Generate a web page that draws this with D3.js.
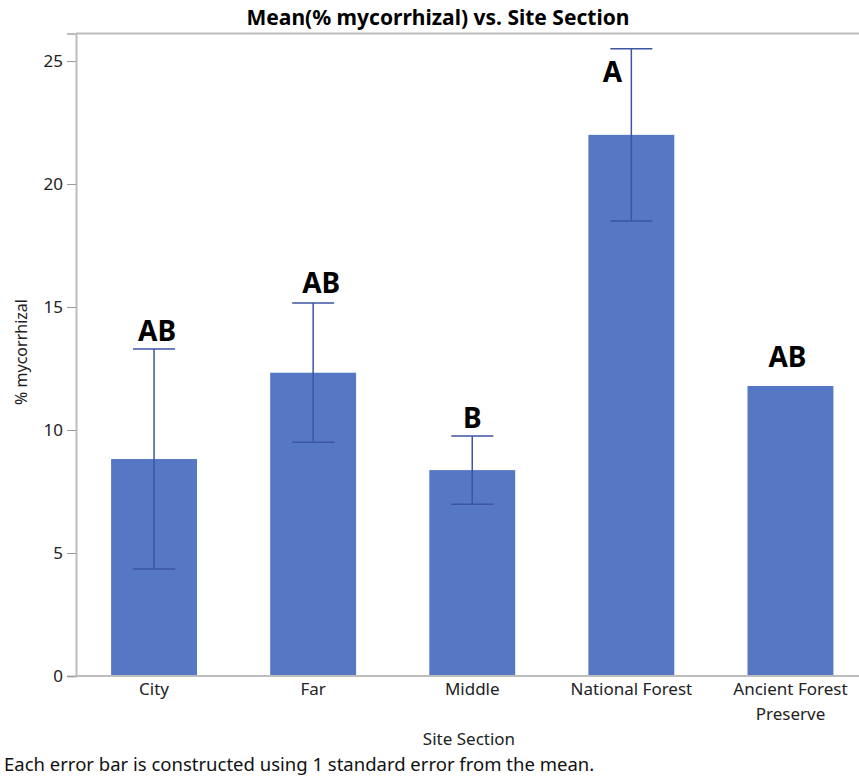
<!DOCTYPE html>
<html>
<head>
<meta charset="utf-8">
<script src="https://cdn.jsdelivr.net/npm/d3@7"></script>
<style>
  html, body { margin: 0; padding: 0; background: #fff; }
  svg { display: block; }
  text { font-family: "Noto Sans", "Open Sans", sans-serif; }
</style>
</head>
<body>
<svg id="chart" width="859" height="779"></svg>
<script>
// Mean % mycorrhizal colonisation per site section, with 1 SE error bars
const categories = ["City", "Far", "Middle", "National Forest", "Ancient Forest Preserve"];
const means = [8.82, 12.33, 8.37, 22.0, 11.79];
const stdErrors = [4.47, 2.83, 1.39, 3.5, null];
const groupLetters = ["AB", "AB", "B", "A", "AB"];
const yTicks = [0, 5, 10, 15, 20, 25];

const svg = d3.select("#chart");
const W = 859, H = 779;
const plot = { left: 76, top: 33.5, bottom: 676, right: 870 };

const x = d3.scaleBand()
  .domain(categories)
  .range([plot.left - 1.5, plot.right])
  .paddingInner(0.46)
  .paddingOuter(0.23);

const y = d3.scaleLinear()
  .domain([0, 26.12])
  .range([plot.bottom, plot.top]);

const barColor = "#5677c4";
const errColor = "#3d55a3";
const axisColor = "#bdbdbd";
const labelFont = "'Noto Sans', sans-serif";

// Frame: top border
svg.append("line")
  .attr("x1", plot.left).attr("x2", W)
  .attr("y1", plot.top).attr("y2", plot.top)
  .attr("stroke", axisColor).attr("stroke-width", 2);

// Y axis
const yAxis = d3.axisLeft(y)
  .tickValues(yTicks)
  .tickSize(9)
  .tickPadding(4)
  .tickFormat(d3.format("d"));
const gy = svg.append("g")
  .attr("transform", `translate(${plot.left},0)`)
  .call(yAxis);
gy.attr("font-size", null).attr("font-family", null);
gy.select(".domain").attr("stroke", axisColor).attr("stroke-width", 2);
gy.selectAll(".tick line").attr("stroke", "#999").attr("stroke-width", 1);
gy.selectAll(".tick text")
  .attr("fill", "#222")
  .style("font-size", "17px")
  .style("font-family", labelFont);

// Bars
svg.append("g").selectAll("rect")
  .data(categories)
  .join("rect")
  .attr("x", d => x(d))
  .attr("width", x.bandwidth())
  .attr("y", (d, i) => y(means[i]))
  .attr("height", (d, i) => y(0) - y(means[i]))
  .attr("fill", barColor);

// X axis
const xAxis = d3.axisBottom(x).tickSize(0).tickPadding(6);
const gx = svg.append("g")
  .attr("transform", `translate(0,${plot.bottom})`)
  .call(xAxis);
gx.attr("font-size", null).attr("font-family", null);
gx.select(".domain").remove();
svg.append("line")
  .attr("x1", plot.left - 1).attr("x2", W)
  .attr("y1", plot.bottom).attr("y2", plot.bottom)
  .attr("stroke", axisColor).attr("stroke-width", 2);

// Category labels, wrapping the long name onto two lines
gx.selectAll(".tick text").each(function(d) {
  const t = d3.select(this);
  t.text(null)
    .attr("fill", "#222")
    .attr("dy", null)
    .attr("y", 0)
    .style("font-size", "17px")
    .style("font-family", labelFont);
  const lines = d === "Ancient Forest Preserve" ? ["Ancient Forest", "Preserve"] : [d];
  lines.forEach((ln, k) => {
    t.append("tspan")
      .attr("x", 0)
      .attr("y", 19 + k * 25)
      .text(ln);
  });
});

// Error bars (1 SE)
const capHalf = 21;
const errData = categories
  .map((c, i) => ({ c, m: means[i], se: stdErrors[i] }))
  .filter(d => d.se != null);
const eg = svg.append("g")
  .attr("stroke", errColor)
  .attr("stroke-width", 1.5)
  .attr("fill", "none");
errData.forEach(d => {
  const cx = x(d.c) + x.bandwidth() / 2;
  const hi = y(d.m + d.se), lo = y(d.m - d.se);
  eg.append("line").attr("x1", cx).attr("x2", cx).attr("y1", hi).attr("y2", lo);
  eg.append("line").attr("x1", cx - capHalf).attr("x2", cx + capHalf).attr("y1", hi).attr("y2", hi);
  eg.append("line").attr("x1", cx - capHalf).attr("x2", cx + capHalf).attr("y1", lo).attr("y2", lo);
});

// Significance group letters above each bar
const letterShift = [
  { dx: 3, dy: -8 },
  { dx: 8, dy: -10 },
  { dx: 0, dy: -8 },
  { dx: -19, dy: 33 },
  { dx: -3, dy: -19 }
];
svg.append("g").selectAll("text")
  .data(categories)
  .join("text")
  .attr("x", (d, i) => x(d) + x.bandwidth() / 2 + letterShift[i].dx)
  .attr("y", (d, i) => y(means[i] + (stdErrors[i] || 0)) + letterShift[i].dy)
  .attr("text-anchor", "middle")
  .attr("font-size", 28)
  .attr("font-weight", "bold")
  .attr("fill", "#000")
  .text((d, i) => groupLetters[i]);

// Title
svg.append("text")
  .attr("x", 438).attr("y", 25)
  .attr("text-anchor", "middle")
  .attr("font-size", 21)
  .attr("font-weight", "bold")
  .attr("fill", "#000")
  .text("Mean(% mycorrhizal) vs. Site Section");

// Axis titles
svg.append("text")
  .attr("transform", "translate(27,352) rotate(-90)")
  .attr("text-anchor", "middle")
  .attr("font-size", 16)
  .attr("fill", "#222")
  .text("% mycorrhizal");

svg.append("text")
  .attr("x", 469).attr("y", 745)
  .attr("text-anchor", "middle")
  .attr("font-size", 17)
  .attr("fill", "#222")
  .text("Site Section");

// Footnote
svg.append("text")
  .attr("x", 4).attr("y", 771)
  .attr("font-size", 18.5)
  .attr("fill", "#111")
  .text("Each error bar is constructed using 1 standard error from the mean.");
</script>
</body>
</html>
